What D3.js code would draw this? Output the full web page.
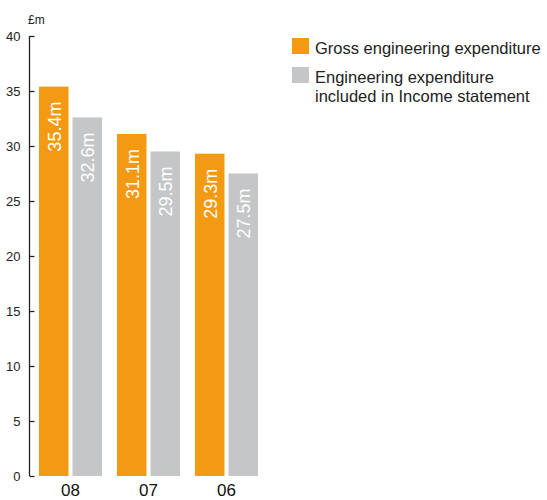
<!DOCTYPE html>
<html>
<head>
<meta charset="utf-8">
<script src="https://cdn.jsdelivr.net/npm/d3@7"></script>
<style>
  html, body { margin: 0; padding: 0; background: #fff; }
  svg { display: block; }
  text { font-family: "Liberation Sans", Arial, sans-serif; }
</style>
</head>
<body>
<div id="chart"></div>
<script>
// Engineering expenditure by year, £m
const years = ["08", "07", "06"];
const seriesNames = [
  "Gross engineering expenditure",
  "Engineering expenditure included in Income statement"
];
const grossValues = [35.4, 31.1, 29.3];
const incomeValues = [32.6, 29.5, 27.5];
const yTicks = [0, 5, 10, 15, 20, 25, 30, 35, 40];
const legendLines = [
  ["Gross engineering expenditure"],
  ["Engineering expenditure", "included in Income statement"]
];
const colors = ["#F39A12", "#C5C6C8"];

const width = 547, height = 500;
const svg = d3.select("#chart").append("svg")
  .attr("width", width).attr("height", height);

const y = d3.scaleLinear().domain([0, 40]).range([476, 36]);

const x0 = d3.scaleBand().domain(years)
  .range([31.2, 265.8]).paddingInner(0.1923).paddingOuter(0.1);
const x1 = d3.scaleBand().domain([0, 1])
  .range([0, x0.bandwidth()]).paddingInner(0.12);

const rows = years.map((yr, i) => ({
  year: yr,
  values: [grossValues[i], incomeValues[i]]
}));

// Bars
const groups = svg.append("g").selectAll("g")
  .data(rows).join("g")
  .attr("transform", d => `translate(${x0(d.year)},0)`);

const bars = groups.selectAll("g")
  .data(d => d.values.map((v, k) => ({ v, k })))
  .join("g");

bars.append("rect")
  .attr("x", d => x1(d.k))
  .attr("width", x1.bandwidth())
  .attr("y", d => y(d.v))
  .attr("height", d => y(0) - y(d.v))
  .attr("fill", d => colors[d.k]);

// Value labels, rotated inside each bar
bars.append("text")
  .attr("transform", d =>
    `translate(${x1(d.k) + x1.bandwidth() / 2 + 7},${y(d.v) + 15}) rotate(-90)`)
  .attr("text-anchor", "end")
  .attr("fill", "#fff")
  .attr("font-size", 18)
  .text(d => d.v.toFixed(1) + "m");

// Y axis with inward ticks
const yAxis = d3.axisLeft(y).tickValues(yTicks).tickSize(-5).tickPadding(9);
const gy = svg.append("g").attr("transform", "translate(29.5,0)").call(yAxis);
gy.select(".domain").attr("stroke", "#222").attr("stroke-width", 1.3)
  .attr("d", `M0,${y(40)}V${y(0)}`);
gy.selectAll(".tick line").attr("stroke", "#222").attr("stroke-width", 1.3);
gy.selectAll(".tick text")
  .attr("font-size", 13).attr("fill", "#222")
  .attr("font-family", "'Liberation Sans', Arial, sans-serif");

svg.append("text")
  .attr("x", 28).attr("y", 24)
  .attr("font-size", 12).attr("fill", "#222")
  .text("£m");

// Year labels
svg.append("g").selectAll("text")
  .data(years).join("text")
  .attr("x", d => x0(d) + x0.bandwidth() / 2)
  .attr("y", 496)
  .attr("text-anchor", "middle")
  .attr("font-size", 17).attr("fill", "#111")
  .text(d => d);

// Legend
const legend = svg.append("g").selectAll("g")
  .data(seriesNames).join("g")
  .attr("transform", (d, i) => `translate(292,${i === 0 ? 38 : 67})`);

legend.append("rect")
  .attr("width", 17).attr("height", 16)
  .attr("fill", (d, i) => colors[i]);

legend.append("text")
  .attr("x", 23).attr("y", 15.5)
  .attr("font-size", 16.5).attr("fill", "#222")
  .selectAll("tspan")
  .data((d, i) => legendLines[i])
  .join("tspan")
  .attr("x", 23)
  .attr("dy", (d, j) => j === 0 ? 0 : 19.5)
  .text(d => d);
</script>
</body>
</html>
